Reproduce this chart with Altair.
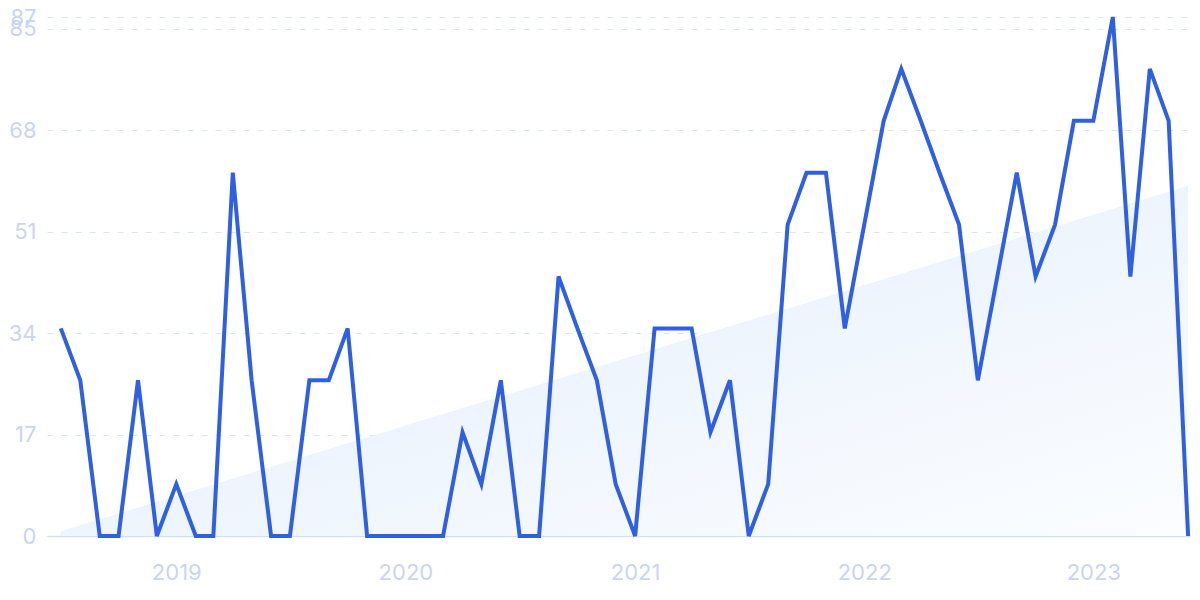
import altair as alt
import pandas as pd

# Monthly categories (July 2018 .. June 2023)
months = [d.strftime("%Y-%m-%dT00:00:00") for d in pd.date_range("2018-07-01", "2023-06-01", freq="MS")]

values = [
    34.8, 26.1, 0, 0, 26.1, 0,            # 2018-07 .. 2018-12
    8.7, 0, 0, 60.9, 26.1, 0, 0, 26.1, 26.1, 34.8, 0, 0,   # 2019
    0, 0, 0, 17.4, 8.7, 26.1, 0, 0, 43.5, 34.8, 26.1, 8.7,  # 2020
    0, 34.8, 34.8, 34.8, 17.4, 26.1, 0, 8.7, 52.2, 60.9, 60.9, 34.8,  # 2021
    52.2, 69.6, 78.3, 69.6, 60.9, 52.2, 26.1, 43.5, 60.9, 43.5, 52.2, 69.6,  # 2022
    69.6, 87, 43.5, 78.3, 69.6, 0,        # 2023-01 .. 2023-06
]

trend_dates = ["2018-07-01T00:00:00", "2023-06-01T00:00:00"]
trend_values = [0.8, 58.7]

y_ticks = [0, 17, 34, 51, 68, 85, 87]

df = pd.DataFrame({"date": months, "value": values})
trend = pd.DataFrame({"date": trend_dates, "value": trend_values})

x_scale = alt.Scale(domain=[alt.DateTime(year=2018, month=6, date=9),
                            alt.DateTime(year=2023, month=6, date=4)])
y_scale = alt.Scale(domain=[0, 87], nice=False, zero=True)

label_color = "#c9d5f2"

x_axis = alt.Axis(format="%Y", tickCount={"interval": "year", "step": 1}, grid=False,
                  domain=True, domainColor="#cfe0fa", domainWidth=1.5, ticks=False,
                  labelColor=label_color, labelFontSize=22, labelPadding=26,
                  labelFont="Inter", title=None)
y_axis = alt.Axis(values=y_ticks, grid=True, gridColor="#dce4f7", gridDash=[6, 8],
                  gridWidth=1.2, domain=False, ticks=False, labelColor=label_color,
                  labelFontSize=22, labelPadding=11, labelFont="Inter", title=None,
                  labelOverlap=False, labelBound=False)

area = alt.Chart(trend).mark_area(
    color=alt.Gradient(
        gradient="linear",
        stops=[alt.GradientStop(color="#e1ecfb", offset=0),
               alt.GradientStop(color="#fbfdff", offset=1)],
        x1=0, y1=0, x2=1, y2=1,
    )
).encode(
    x=alt.X("date:T", scale=x_scale, axis=x_axis),
    y=alt.Y("value:Q", scale=y_scale, axis=y_axis),
)

line = alt.Chart(df).mark_line(color="#2f60e2", strokeWidth=4).encode(
    x=alt.X("date:T", scale=x_scale),
    y=alt.Y("value:Q", scale=y_scale),
)

chart = (area + line).properties(
    width=1143, height=519,
    autosize=alt.AutoSizeParams(type="none"),
    padding={"left": 39, "top": 9, "right": 2, "bottom": 56},
).configure_view(stroke=None)

chart.save("out.html", embed_options={"renderer": "svg", "actions": False})
